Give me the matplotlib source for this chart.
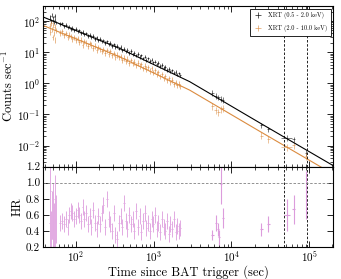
import matplotlib
matplotlib.use("Agg")
import matplotlib.pyplot as plt
import numpy as np

plt.rcParams['font.family'] = 'serif'
plt.rcParams['font.serif'] = ['cmr10']
plt.rcParams['mathtext.fontset'] = 'cm'
plt.rcParams['axes.unicode_minus'] = False
plt.rcParams['axes.formatter.use_mathtext'] = True

# ---------------- data ----------------
t_dense = [46, 47, 48, 49, 50, 51, 52, 53, 54, 55,
           62, 66, 70, 74, 78, 82, 86, 90, 95, 100, 105, 110, 116, 122, 128, 135, 142,
           150, 158, 166, 175, 184, 194, 204, 215, 226, 238, 250, 263, 277, 291, 306,
           322, 339, 357, 375, 395, 415, 437, 460, 484, 509, 536, 564, 593, 624, 657,
           691, 727, 765, 805, 847, 891, 938, 987, 1040, 1090, 1150, 1210, 1270, 1340,
           1410, 1480, 1560, 1640, 1730, 1820, 1910, 2010, 2120, 2200]
soft_dense = [115, 140, 100, 160, 105, 130, 95, 145, 110, 90,
              80, 85, 68, 75, 62, 66, 55, 60, 50, 55, 46, 50, 41, 44, 37, 40, 33,
              36, 30, 33, 27, 30, 24, 27, 22, 24, 20, 22, 18, 20, 16, 18,
              14.5, 16, 13, 14.5, 11.5, 13, 10.5, 12, 9.5, 10.8, 8.6, 9.6, 7.8, 8.8, 7.0,
              7.9, 6.3, 7.2, 5.7, 6.4, 5.2, 5.8, 4.7, 5.0, 4.1, 4.5, 3.6, 3.9, 3.1,
              3.4, 2.7, 2.9, 2.4, 2.6, 2.2, 2.3, 1.9, 2.1, 1.8]
hard_dense = [70, 45, 85, 55, 30, 75, 40, 65, 25, 50,
              42, 46, 35, 40, 30, 36, 33, 26, 30, 25, 28, 21, 25, 17, 22, 20, 16,
              19, 17.5, 14, 16, 12, 14.5, 12.5, 10.5, 12.5, 9.5, 11.5, 9.0, 10.5, 8.0, 9.2,
              7.0, 8.2, 6.8, 7.5, 5.6, 6.6, 5.2, 6.2, 4.6, 5.5, 4.4, 5.0, 3.8, 4.5, 3.6,
              4.1, 3.0, 3.7, 2.9, 3.3, 2.5, 3.0, 2.3, 2.6, 2.0, 2.3, 1.7, 1.95, 1.45,
              1.7, 1.25, 1.45, 1.1, 1.3, 0.95, 1.1, 0.85, 0.98, 0.8]
hr_dense = [0.50, 0.90, 0.35, 0.60, 0.30, 0.70, 0.45, 0.80, 0.25, 0.55,
            0.50, 0.52, 0.48, 0.55, 0.45, 0.60, 0.65, 0.62, 0.55, 0.58, 0.66, 0.60, 0.52,
            0.70, 0.55, 0.62, 0.48, 0.58, 0.45, 0.66, 0.50, 0.42, 0.58, 0.48, 0.62, 0.72,
            0.45, 0.80, 0.55, 0.48, 0.40, 0.62, 0.35, 0.30, 0.50, 0.58, 0.45, 0.75, 0.52,
            0.42, 0.60, 0.48, 0.55, 0.40, 0.65, 0.45, 0.58, 0.38, 0.52, 0.62, 0.44, 0.50,
            0.40, 0.55, 0.48, 0.60, 0.42, 0.50, 0.38, 0.55, 0.45, 0.40, 0.52, 0.36, 0.48,
            0.42, 0.55, 0.38, 0.46, 0.40, 0.44]

t_late = [5700, 6300, 6800, 7300, 7700, 24400, 30000, 52000, 63000, 92000]
t_late_err = [250, 250, 250, 250, 250, 1200, 1200, 9000, 3000, 2500]
soft_late = [0.50, 0.40, 0.35, 0.32, 0.30, 0.045, 0.033, 0.018, 0.016, 0.0058]
hard_late = [0.18, 0.14, 0.12, 0.15, 0.16, 0.021, 0.016, 0.0092, 0.0105, 0.0046]

t_hr_late = [5700, 6300, 6800, 7000, 7430, 7800, 24400, 30000, 52000, 63000, 92000]
t_hr_late_err = [200, 200, 200, 200, 200, 200, 1000, 1000, 5000, 2000, 2000]
hr_late = [0.35, 0.50, 0.42, 0.32, 0.98, 0.56, 0.42, 0.49, 0.60, 0.67, 0.85]
hr_late_err = [0.06, 0.10, 0.08, 0.09, 0.25, 0.12, 0.08, 0.10, 0.20, 0.18, 0.30]

# fitted model curve, nodes
fit_t = [37.9, 368, 2900, 22900, 2.04e5]
fit_soft = [134, 13.1, 1.13, 0.0545, 0.00227]
fit_hard = [71.7, 7.0, 0.604, 0.0291, 0.00121]

vlines_t = [4.7e4, 9.3e4]

soft_label = 'XRT (0.5 - 2.0 keV)'
hard_label = 'XRT (2.0 - 10.0 keV)'

# ---------------- plotting ----------------
SOFT_C = 'black'
HARD_C = '#DB8B3F'
HR_C = '#E2AAE2'
HR_LATE_C = '#DC9CDC'

fig = plt.figure(figsize=(3.41, 2.79), dpi=100)
gs = fig.add_gridspec(2, 1, height_ratios=[2, 1], hspace=0,
                      left=0.126, right=0.977, top=0.978, bottom=0.115)
ax = fig.add_subplot(gs[0])
axh = fig.add_subplot(gs[1], sharex=ax)

td = np.array(t_dense, dtype=float)
edges = np.sqrt(td[1:] * td[:-1])
lo = np.concatenate([[td[0] - 0.5], edges])
hi = np.concatenate([edges, [td[-1] * 1.02]])
xerr_d = np.vstack([td - lo, hi - td])
xerr_d[:, 9] = [0.5, 0.5]
xerr_d[:, 10] = [2, 2]

sd = np.array(soft_dense)
hd = np.array(hard_dense)

ax.errorbar(td, sd, xerr=xerr_d, yerr=0.13 * sd, fmt='none', ecolor=SOFT_C,
            elinewidth=0.6, alpha=0.75, label=soft_label)
ax.errorbar(td, hd, xerr=xerr_d, yerr=0.2 * hd, fmt='none', ecolor=HARD_C,
            elinewidth=0.6, alpha=0.7, label=hard_label)
ax.errorbar(t_late, soft_late, xerr=t_late_err, yerr=0.2 * np.array(soft_late),
            fmt='none', ecolor=SOFT_C, elinewidth=0.6, alpha=0.6)
ax.errorbar(t_late, hard_late, xerr=t_late_err, yerr=0.25 * np.array(hard_late),
            fmt='none', ecolor=HARD_C, elinewidth=0.6, alpha=0.6)
ax.plot(fit_t, fit_soft, color=SOFT_C, lw=0.8)
ax.plot(fit_t, fit_hard, color=HARD_C, lw=0.8)

for v in vlines_t:
    ax.axvline(v, color='k', ls='--', lw=0.6, dashes=(3, 2))
    axh.axvline(v, color='k', ls='--', lw=0.6, dashes=(3, 2))

ax.set_xscale('log')
ax.set_yscale('log')
ax.set_xlim(37.6, 2.04e5)
ax.set_ylim(2.1e-3, 300)
ax.set_ylabel('Counts sec$^{-1}$', fontsize=9, labelpad=1)
ax.set_yticks([1e-2, 1e-1, 1, 10, 100])
plt.setp(ax.get_xticklabels(), visible=False)

leg = ax.legend(loc='upper right', fontsize=4.5, frameon=True, fancybox=False,
                framealpha=1, edgecolor='black', handlelength=1.5,
                borderpad=0.6, labelspacing=0.9, borderaxespad=0.4)
leg.get_frame().set_linewidth(0.6)

hr_d = np.array(hr_dense)
hr_err_d = np.full(len(hr_d), 0.1)
hr_err_d[:10] = 0.3
axh.errorbar(td, hr_d, xerr=xerr_d, yerr=hr_err_d, fmt='none', ecolor=HR_C,
             elinewidth=0.7)
axh.errorbar(t_hr_late, hr_late, xerr=t_hr_late_err, yerr=hr_late_err, fmt='none',
             ecolor=HR_LATE_C, elinewidth=0.8)
axh.axhline(1.0, color='gray', ls='--', lw=0.6, dashes=(3, 2))
axh.set_ylim(0.2, 1.2)
axh.set_yticks([0.2, 0.4, 0.6, 0.8, 1.0, 1.2])
axh.set_yticklabels(['0.2', '0.4', '0.6', '0.8', '1.0', '1.2'])
axh.set_ylabel('HR', fontsize=9, labelpad=2)
axh.set_xlabel('Time since BAT trigger (sec)', fontsize=9, labelpad=0)
axh.set_xlim(37.6, 2.04e5)

for a in (ax, axh):
    a.tick_params(which='both', direction='in', top=True, right=True, labelsize=8, pad=2)
    a.tick_params(which='major', length=4, width=0.6)
    a.tick_params(which='minor', length=2, width=0.5)
    for s in a.spines.values():
        s.set_linewidth(0.8)

fig.savefig('out.png', dpi=100)
